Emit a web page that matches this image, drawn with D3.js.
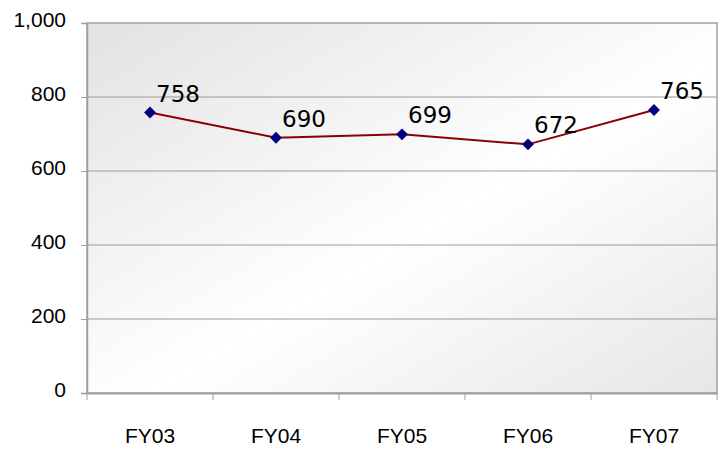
<!DOCTYPE html>
<html>
<head>
<meta charset="utf-8">
<script src="https://cdn.jsdelivr.net/npm/d3@7"></script>
<style>
  body { margin: 0; background: #fff; }
  svg text { fill: #000; }
</style>
</head>
<body>
<div id="chart"></div>
<script>
const years = ["FY03", "FY04", "FY05", "FY06", "FY07"];
const values = [758, 690, 699, 672, 765];
const yTicks = [0, 200, 400, 600, 800, 1000];

const width = 723, height = 450;
const margin = {top: 23, right: 6, bottom: 57, left: 87};
const innerW = width - margin.left - margin.right;
const innerH = height - margin.top - margin.bottom;

const svg = d3.select("#chart").append("svg")
  .attr("width", width)
  .attr("height", height);

const defs = svg.append("defs");
const grad = defs.append("linearGradient")
  .attr("id", "bg")
  .attr("x1", "0%").attr("y1", "0%")
  .attr("x2", "100%").attr("y2", "100%");
grad.append("stop").attr("offset", "0%").attr("stop-color", "#e2e2e2");
grad.append("stop").attr("offset", "55%").attr("stop-color", "#ffffff");
grad.append("stop").attr("offset", "100%").attr("stop-color", "#e6e6e6");

const g = svg.append("g").attr("transform", `translate(${margin.left},${margin.top})`);

const x = d3.scaleBand().domain(years).range([0, innerW]);
const y = d3.scaleLinear().domain([0, 1000]).range([innerH, 0]);

// plot background
g.append("rect")
  .attr("width", innerW)
  .attr("height", innerH)
  .attr("fill", "url(#bg)");

// gridlines
g.append("g")
  .selectAll("line")
  .data(yTicks.filter(d => d > 0 && d < 1000))
  .join("line")
  .attr("x1", 0).attr("x2", innerW)
  .attr("y1", d => y(d)).attr("y2", d => y(d))
  .attr("stroke", "#9a9a9a")
  .attr("stroke-width", 1);

// frame
g.append("rect")
  .attr("width", innerW)
  .attr("height", innerH)
  .attr("fill", "none")
  .attr("stroke", "#a0a0a0")
  .attr("stroke-width", 1.5);

// y axis
const yAxis = g.append("g")
  .call(d3.axisLeft(y).tickValues(yTicks).tickSize(6).tickPadding(15).tickFormat(d3.format(",")));
yAxis.select(".domain").attr("stroke", "#a0a0a0").attr("stroke-width", 1.5);
yAxis.selectAll(".tick line").attr("stroke", "#a0a0a0");
yAxis.selectAll("text")
  .attr("dy", "0.15em")
  .attr("font-family", "'Liberation Sans', Arial, sans-serif")
  .attr("font-size", 21);

// x axis
const xAxis = g.append("g")
  .attr("transform", `translate(0,${innerH})`)
  .call(d3.axisBottom(x).tickSize(0).tickPadding(35));
xAxis.select(".domain").attr("stroke", "#a0a0a0").attr("stroke-width", 2);
xAxis.selectAll("text")
  .attr("font-family", "'Liberation Sans', Arial, sans-serif")
  .attr("font-size", 21);

// category boundary ticks
g.append("g")
  .selectAll("line")
  .data(d3.range(years.length + 1))
  .join("line")
  .attr("x1", i => i * x.step()).attr("x2", i => i * x.step())
  .attr("y1", innerH).attr("y2", innerH + 7)
  .attr("stroke", "#a0a0a0");

const cx = d => x(d) + x.bandwidth() / 2;

// line
g.append("path")
  .datum(years.map((d, i) => [cx(d), y(values[i])]))
  .attr("fill", "none")
  .attr("stroke", "#8b0000")
  .attr("stroke-width", 2)
  .attr("d", d3.line());

// markers
g.append("g")
  .selectAll("path")
  .data(years)
  .join("path")
  .attr("transform", (d, i) => `translate(${cx(d)},${y(values[i])})`)
  .attr("d", d3.symbol(d3.symbolDiamond2, 90))
  .attr("fill", "#000080");

// data labels
g.append("g")
  .selectAll("text")
  .data(years)
  .join("text")
  .attr("x", d => cx(d) + 6)
  .attr("y", (d, i) => y(values[i]) - 11)
  .attr("text-anchor", "start")
  .attr("font-family", "'DejaVu Sans', sans-serif")
  .attr("font-size", 23)
  .attr("font-weight", 500)
  .text((d, i) => values[i]);
</script>
</body>
</html>
